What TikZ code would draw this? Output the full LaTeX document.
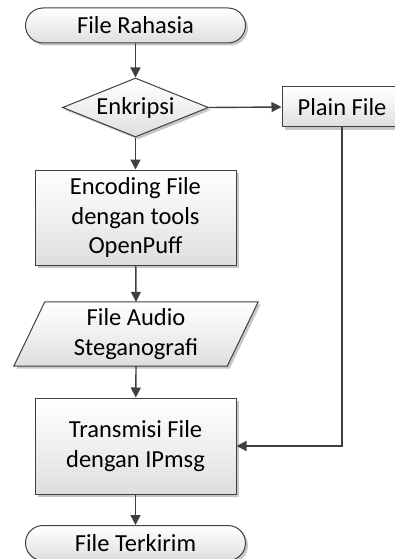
\documentclass[tikz,border=0pt]{standalone}
\usepackage{fontspec}
\setmainfont{Carlito}
\usetikzlibrary{shapes.geometric,shadows,arrows.meta}
\definecolor{edge}{HTML}{404040}
\tikzset{
  boxfill/.style={top color=white, bottom color=black!13, middle color=black!6},
  shade/.style={drop shadow={shadow xshift=2.5pt, shadow yshift=-2.5pt, fill=black!22, opacity=1}},
  label/.style={font=\fontsize{24.5}{29.5}\selectfont, align=center, text=black},
  procbox/.style={label, draw=edge, line width=1pt, boxfill, shade, rectangle, inner sep=0pt},
  terminal/.style={procbox, rounded corners=17.5pt, minimum width=220pt, minimum height=35pt},
  decision/.style={procbox, diamond, aspect=2.47, inner sep=0pt, minimum width=146pt, minimum height=59pt},
  flow/.style={draw=edge, line width=1.4pt, -{Triangle[length=10pt,width=10pt]}},
}
\begin{document}
\begin{tikzpicture}[x=1pt,y=-1pt]
  \useasboundingbox (0,0) rectangle (395,559);
  \clip (0,0) rectangle (395,559);

  \node[terminal] (start) at (135.5,25.5) {File Rahasia};
  \node[decision] (dec) at (135.5,107.5) {Enkripsi};
  \node[procbox, minimum width=120pt, minimum height=40pt] (plain) at (342,107) {Plain File};
  \node[procbox, minimum width=201pt, minimum height=95pt] (enc) at (135.5,217.5)
    {Encoding File\\dengan tools\\OpenPuff};

  % data (input/output) shape: parallelogram around a plain text node
  \node[label, minimum width=244pt, minimum height=64pt, inner sep=0pt] (audio) at (136,334) {};
  \fill[black!22] ([shift={(33.5,2.5)}]audio.north west) -- ([shift={(2.5,2.5)}]audio.north east)
     -- ([shift={(-28.5,2.5)}]audio.south east) -- ([shift={(2.5,2.5)}]audio.south west) -- cycle;
  \draw[edge, line width=1pt, boxfill] ([xshift=31pt]audio.north west) -- (audio.north east)
     -- ([xshift=-31pt]audio.south east) -- (audio.south west) -- cycle;
  \node[label] at (audio.center) {File Audio\\Steganografi};

  \node[procbox, minimum width=201pt, minimum height=96pt] (trans) at (135.5,446)
    {Transmisi File\\dengan IPmsg};
  \node[terminal] (end) at (135.5,543) {File Terkirim};

  \draw[flow] (start) -- (dec);
  \draw[flow] (dec.east) -- (plain.west);
  \draw[flow] (dec) -- (enc);
  \draw[flow] (enc) -- (audio.north);
  \draw[flow] (audio.south) -- (trans);
  \draw[flow] (trans) -- (end);
  \draw[flow] (plain.south) |- (trans.east);
\end{tikzpicture}
\end{document}
